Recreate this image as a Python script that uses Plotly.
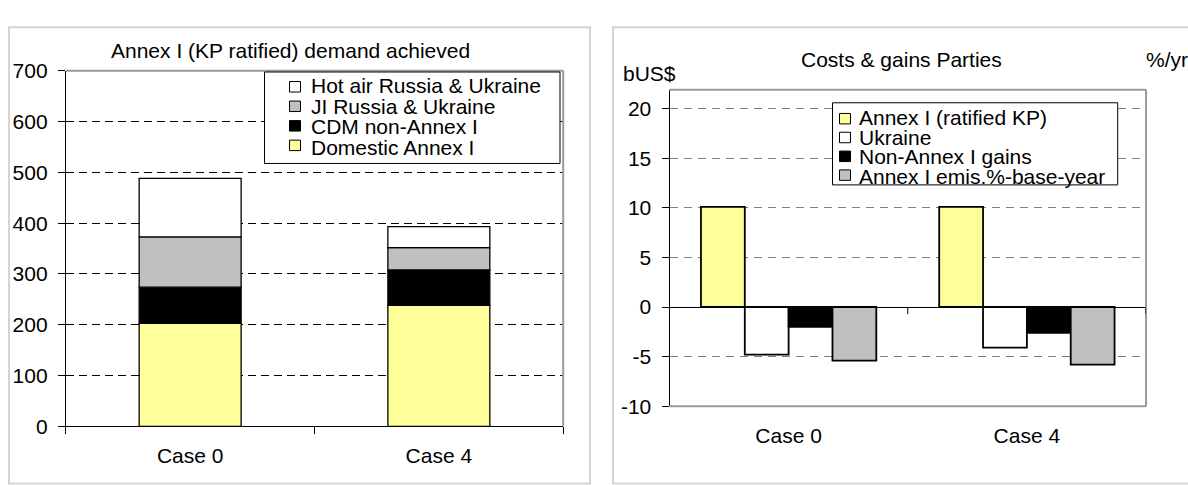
import numpy as np
import plotly.graph_objects as go

W, H = 1188, 485
FONT = "Liberation Sans"

cases = ["Case 0", "Case 4"]

# Left panel: demand achieved, stacked bottom-up (Mt C)
demand_names = ["Domestic Annex I", "CDM non-Annex I", "JI Russia & Ukraine", "Hot air Russia & Ukraine"]
domestic = [203, 238]
cdm = [71, 70]
ji = [99, 44]
hot_air = [115, 41]
demand_colors = ["#FFFF99", "#000000", "#C0C0C0", "#FFFFFF"]
left_ticks = [0, 100, 200, 300, 400, 500, 600, 700]

# Right panel: costs & gains of the Parties (bUS$, %/yr)
cost_names = ["Annex I (ratified KP)", "Ukraine", "Non-Annex I gains", "Annex I emis.%-base-year"]
annex1 = [10.1, 10.1]
ukraine = [-4.8, -4.1]
non_annex = [-2.0, -2.6]
emis_pct = [-5.4, -5.8]
cost_colors = ["#FFFF99", "#FFFFFF", "#000000", "#C0C0C0"]
right_ticks = [-10, -5, 0, 5, 10, 15, 20]


def px(x):
    return x / W


def py(y):
    return 1 - y / H


fig = go.Figure()

# stacked demand bars
base = np.zeros(len(cases))
for name, vals, col in zip(demand_names, [domestic, cdm, ji, hot_air], demand_colors):
    fig.add_bar(x=cases, y=vals, base=base.copy(), width=0.41, name=name,
                marker=dict(color=col, line=dict(color="black", width=1.3)),
                xaxis="x", yaxis="y", showlegend=False)
    base += np.array(vals)

# grouped cost bars
bw = 0.184
n = len(cost_names)
for i, (name, vals, col) in enumerate(zip(cost_names, [annex1, ukraine, non_annex, emis_pct], cost_colors)):
    fig.add_bar(x=cases, y=vals, width=bw, offset=-n * bw / 2 + i * bw, name=name,
                marker=dict(color=col, line=dict(color="black", width=1.8)),
                xaxis="x2", yaxis="y2", showlegend=False)

tickfont = dict(family=FONT, size=21, color="black")

fig.update_layout(
    width=W, height=H, margin=dict(l=0, r=0, t=0, b=0),
    paper_bgcolor="white", plot_bgcolor="white",
    barmode="overlay", showlegend=False,
    font=dict(family=FONT, size=21, color="black"),
    xaxis=dict(domain=[px(65.8), px(563.2)], anchor="y", type="category",
               range=[-0.5, len(cases) - 0.5], showline=True, linecolor="black", linewidth=1,
               ticks="outside", tickson="boundaries", ticklen=7, tickcolor="black",
               showgrid=False, tickfont=tickfont, ticklabelstandoff=10),
    yaxis=dict(domain=[py(435), py(61.7)], anchor="x", range=[0, 700], tickvals=left_ticks,
               ticktext=[str(v) for v in left_ticks],
               showgrid=True, gridcolor="black", gridwidth=1, griddash="8px,5px",
               zeroline=False, showline=True, linecolor="black", linewidth=1,
               ticks="outside", ticklen=7, tickcolor="black", tickfont=tickfont,
               ticklabelstandoff=6),
    xaxis2=dict(domain=[px(669.5), px(1146)], anchor="y2", type="category",
                range=[-0.5, len(cases) - 0.5], showline=False, ticks="",
                showgrid=False, tickfont=tickfont, ticklabelstandoff=15),
    yaxis2=dict(domain=[py(413.8), py(81.7)], anchor="x2", range=[-10, 21.9], tickvals=right_ticks,
                ticktext=[str(v) for v in right_ticks],
                showgrid=True, gridcolor="#808080", gridwidth=1, griddash="8px,6px",
                zeroline=True, zerolinecolor="black", zerolinewidth=1,
                showline=True, linecolor="black", linewidth=1,
                ticks="outside", ticklen=7, tickcolor="black", tickfont=tickfont,
                ticklabelstandoff=6),
)

shapes = []
border = dict(color="#999999", width=2)

# panel frames
for x0, x1 in [(9, 590), (613, 1196)]:
    shapes.append(dict(type="rect", xref="paper", yref="paper", x0=px(x0), x1=px(x1),
                       y0=py(495), y1=py(16), line=dict(color="#D4D4D4", width=2),
                       fillcolor="rgba(0,0,0,0)", layer="below"))

# plot-area borders (top/right, plus bottom on the cost chart)
for xr, yr in [("x domain", "y domain"), ("x2 domain", "y2 domain")]:
    shapes.append(dict(type="line", xref=xr, yref=yr, x0=0, x1=1, y0=1, y1=1, line=border))
    shapes.append(dict(type="line", xref=xr, yref=yr, x0=1, x1=1, y0=0, y1=1, line=border))
shapes.append(dict(type="line", xref="x2 domain", yref="y2 domain", x0=0, x1=1, y0=0, y1=0, line=border))

# category boundary ticks on the zero line of the cost chart
for k in range(len(cases)):
    shapes.append(dict(type="line", xref="x2", yref="y2", x0=k + 0.5, x1=k + 0.5,
                       ysizemode="pixel", yanchor=0, y0=0, y1=-7,
                       line=dict(color="black", width=1)))

annotations = []


def add_legend(box, sq_x, first_cy, step, text_x, names, colors):
    x0, y0, x1, y1 = box
    shapes.append(dict(type="rect", xref="paper", yref="paper", x0=px(x0), x1=px(x1),
                       y0=py(y1), y1=py(y0), line=dict(color="black", width=1),
                       fillcolor="white"))
    for i, col in enumerate(colors):
        cy = first_cy + i * step
        shapes.append(dict(type="rect", xref="paper", yref="paper",
                           x0=px(sq_x), x1=px(sq_x + 11), y0=py(cy + 5.5), y1=py(cy - 5.5),
                           line=dict(color="black", width=1), fillcolor=col))
    # one text block: line pitch follows the outer font size, glyphs use 21px
    lines = "<br>".join(f"<span style='font-size:21px'>{nm}</span>" for nm in names)
    mid = first_cy + step * (len(names) - 1) / 2
    annotations.append(dict(xref="paper", yref="paper", x=px(text_x), y=py(mid),
                            xanchor="left", yanchor="middle", align="left", text=lines,
                            showarrow=False,
                            font=dict(family=FONT, size=step / 1.3, color="black")))


add_legend((264.5, 63, 560, 159), 289.5, 78.5, 20.5, 309,
           demand_names[::-1], demand_colors[::-1])
add_legend((832.5, 95.3, 1117.7, 181.5), 839.5, 112, 19.75, 857,
           cost_names, cost_colors)

# titles and unit labels
for text, x, y, anchor in [("Annex I (KP ratified) demand achieved", 290, 40, "center"),
                           ("Costs & gains Parties", 901, 50, "center"),
                           ("bUS$", 621, 65, "left"),
                           ("%/yr", 1144, 50, "left")]:
    annotations.append(dict(xref="paper", yref="paper", x=px(x), y=py(y), xanchor=anchor,
                            yanchor="middle", text=text, showarrow=False,
                            font=dict(family=FONT, size=21, color="black")))

fig.update_layout(shapes=shapes, annotations=annotations)

fig.write_html("out.html")
